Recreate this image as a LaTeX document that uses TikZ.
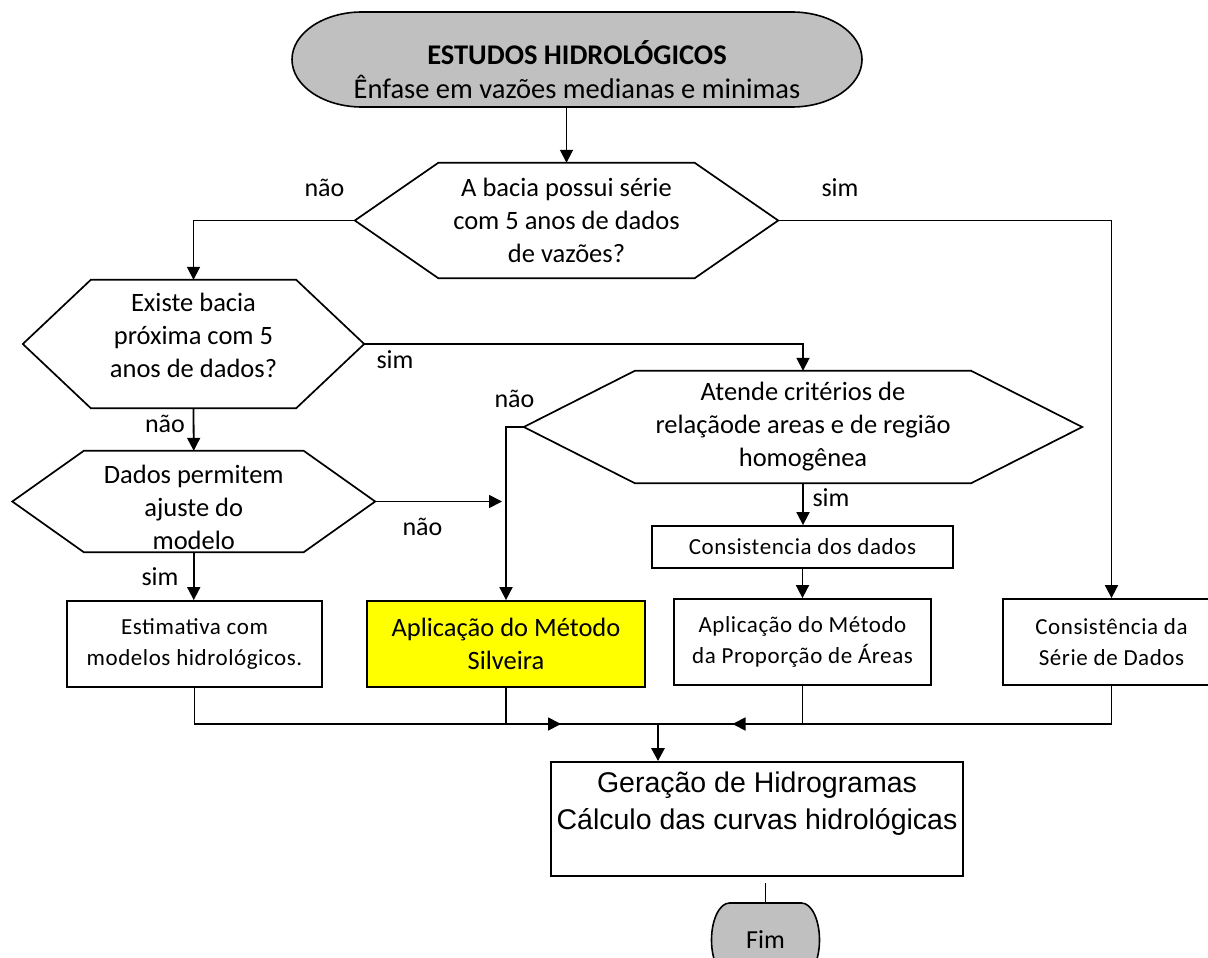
\documentclass[tikz,border=0pt]{standalone}
\usepackage{fontspec}
\setmainfont{Carlito}
\newfontfamily\arialfont{Liberation Sans}
\newfontfamily\spacedfont[LetterSpace=2.5]{Carlito}
\usetikzlibrary{arrows.meta,calc}
\definecolor{termgray}{RGB}{192,192,192}
\definecolor{silvyellow}{RGB}{255,255,0}
\newcommand\qfont{\fontsize{26.5pt}{33pt}\selectfont}
\newcommand\lfont{\fontsize{26pt}{30pt}\selectfont}
\newcommand\tfont{\fontsize{28.5pt}{34pt}\selectfont}
\newcommand\bfont{\spacedfont\fontsize{23pt}{31pt}\selectfont}
\newcommand\sfont{\fontsize{26.5pt}{33pt}\selectfont}
\newcommand\gfont{\arialfont\fontsize{28.5pt}{37pt}\selectfont}

\begin{document}
\begin{tikzpicture}[x=1pt,y=-1pt,>={Triangle[length=13pt,width=13pt]}]
  \tikzset{
    line/.style={line width=1.8pt},
    arr/.style={line,->},
    hexline/.style={line width=1.7pt},
    term/.style={fill=termgray,draw,line width=1.6pt},
    qtext/.style={font=\qfont,align=center,inner sep=0pt},
    ttext/.style={font=\tfont,align=center,inner sep=0pt},
    box/.style={draw,line width=1.8pt,align=center,inner sep=0pt,font=\bfont},
    tag/.style={font=\lfont,inner sep=1pt}
  }
  \useasboundingbox (0,0) rectangle (1208,958);

  \draw[term] (362,12) -- (792,12)
    arc[start angle=-90,end angle=90,x radius=70,y radius=47.5] -- (362,107)
    arc[start angle=90,end angle=270,x radius=70,y radius=47.5] -- cycle;
  \node[minimum width=570,minimum height=95] (start) at (577,59.5) {};
  \node[ttext] (starttext) at ([yshift=-10.5]start.center)
    {\textbf{ESTUDOS HIDROLÓGICOS}\\Ênfase em vazões medianas e minimas};

  \node[qtext,minimum width=423,minimum height=115] (q1) at (566.5,220.5)
    {A bacia possui série\\com 5 anos de dados\\de vazões?};
  \draw[hexline] (q1.west) -- ($(q1.north west)+(83.5,0)$) -- ($(q1.north east)+(-83.5,0)$)
    -- (q1.east) -- ($(q1.south east)+(-83.5,0)$) -- ($(q1.south west)+(83.5,0)$) -- cycle;

  \node[minimum width=341,minimum height=128] (q2) at (193.5,344) {};
  \draw[hexline] (q2.west) -- ($(q2.north west)+(68,0)$) -- ($(q2.north east)+(-68,0)$)
    -- (q2.east) -- ($(q2.south east)+(-68,0)$) -- ($(q2.south west)+(68,0)$) -- cycle;
  \node[qtext] (q2text) at ([yshift=9]q2.center)
    {Existe bacia\\próxima com 5\\anos de dados?};

  \node[qtext,minimum width=558,minimum height=112] (q3) at (803,427)
    {Atende critérios de\\relaçãode areas e de região\\homogênea};
  \draw[hexline] (q3.west) -- ($(q3.north west)+(111,0)$) -- ($(q3.north east)+(-111,0)$)
    -- (q3.east) -- ($(q3.south east)+(-111,0)$) -- ($(q3.south west)+(111,0)$) -- cycle;

  \node[minimum width=362.5,minimum height=101] (q4) at (193.75,501.5) {};
  \draw[hexline] (q4.west) -- ($(q4.north west)+(71.5,0)$) -- ($(q4.north east)+(-71.5,0)$)
    -- (q4.east) -- ($(q4.south east)+(-71.5,0)$) -- ($(q4.south west)+(71.5,0)$) -- cycle;
  \node[qtext] (q4text) at ([yshift=-5.5]q4.center)
    {Dados permitem\\ajuste do\\modelo};

  \node[box,minimum width=255,minimum height=86] (est) at (194.5,644)
    {Estimativa com\\modelos hidrológicos.};
  \node[box,fill=silvyellow,font=\sfont,minimum width=278,minimum height=86] (silv) at (506,644)
    {Aplicação do Método\\Silveira};
  \node[box,minimum width=301,minimum height=42] (cons) at (802.5,547)
    {Consistencia dos dados};
  \node[box,minimum width=257,minimum height=86] (prop) at (802.5,642)
    {Aplicação do Método\\da Proporção de Áreas};
  \node[box,minimum width=217,minimum height=86] (serie) at (1111.5,642)
    {Consistência da\\Série de Dados};

  \node[box,minimum width=412,minimum height=114] (ger) at (757,819) {};
  \node[align=center,inner sep=0pt,font=\gfont] (gertext) at ([yshift=15.5]ger.center)
    {Geração de Hidrogramas\\Cálculo das curvas hidrológicas};

  \draw[term] (729.5,903) -- (801.5,903)
    arc[start angle=-90,end angle=90,x radius=18,y radius=37] -- (729.5,977)
    arc[start angle=90,end angle=270,x radius=18,y radius=37] -- cycle;
  \node[tag,minimum width=109,minimum height=74] (fim) at (765.5,940) {Fim};

  \node[tag] (nao1) at (324.5,188) {não};
  \node[tag] (sim1) at (840,188) {sim};
  \node[tag] (sim2) at (395,360) {sim};
  \node[tag] (nao2) at (165,424) {não};
  \node[tag] (nao3) at (514.5,399) {não};
  \node[tag] (nao4) at (422.5,527) {não};
  \node[tag] (sim3) at (160,577) {sim};
  \node[tag] (sim4) at (831,498) {sim};

  \draw[arr] (q1.north |- start.south) -- (q1.north);
  \draw[arr] (q1.west) -| (q2.north);
  \draw[arr] (q1.east) -| (serie.north);
  \draw[arr] (q2.east) -| (q3.north);
  \draw[arr] (q2.south) -- (q4.north);
  \draw[arr] (q4.east) -- ([xshift=-4]q4.east -| silv.north);
  \draw[arr] (q3.west) -| (silv.north);
  \draw[arr] (q4.south) -- (q4.south |- est.north);
  \draw[arr] (q3.south) -- (q3.south |- cons.north);
  \draw[arr] (cons.south) -- (cons.south |- prop.north);

  \coordinate (merge) at (658,724);
  \draw[line] (est.south) |- (merge);
  \draw[arr] (silv.south) |- ([xshift=55]silv.south |- merge);
  \draw[line] (serie.south) |- (merge);
  \draw[arr] (prop.south) |- ([xshift=-70]prop.south |- merge);
  \draw[arr,line width=2.8pt] (merge) -- (merge |- ger.north);
  \draw[line] (fim.north) -- ([yshift=-6]fim.north |- ger.south);
\end{tikzpicture}
\end{document}
